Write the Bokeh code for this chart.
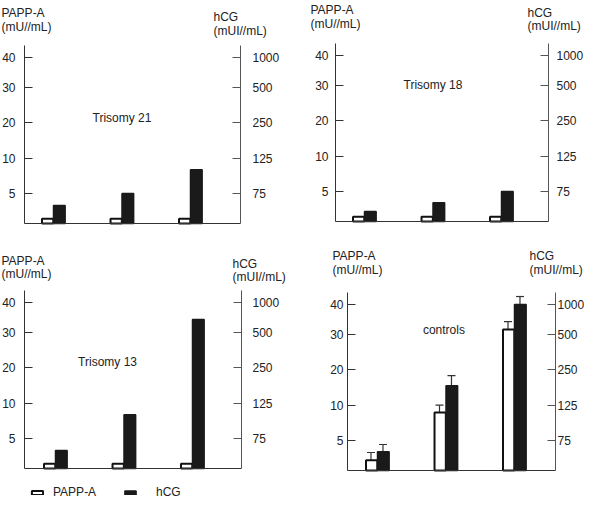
import numpy as np
from bokeh.plotting import figure
from bokeh.models import (Range1d, LinearAxis, FixedTicker, Label, Whisker, TeeHead,
                          ColumnDataSource, Legend, LegendItem)
from bokeh.layouts import column, row
from bokeh.transform import dodge
from bokeh.embed import file_html
from bokeh.resources import INLINE

# ---------------- data ----------------
groups = [1, 2, 3]
papp_ticks = [5, 10, 20, 30, 40]
hcg_ticks = [75, 125, 250, 500, 1000]

t21_papp = [0.8, 0.8, 0.8]
t21_hcg = [45, 75, 109]
t18_papp = [0.8, 0.8, 0.8]
t18_hcg = [25, 47, 75]
t13_papp = [0.8, 0.8, 0.8]
t13_hcg = [45, 109, 717]
ctl_papp = [1.7, 9.0, 31.7]
ctl_papp_err = [3.0, 10.1, 34.3]
ctl_hcg = [47, 194, 1000]
ctl_hcg_err = [65, 229, 1133]

# ------------- the chart's (non-linear, slot based) value scale -------------
SLOTS = [30, 65, 101, 136, 166]   # where each tick sits on a 0..178 axis
Y_MAX = 178
PX_PER_GROUP = 68.5


def papp_pos(v):
    return np.interp(v, [0] + papp_ticks, [0] + SLOTS)


def hcg_pos(v):
    return np.interp(v, [0] + hcg_ticks + [2000], [0] + SLOTS + [226])


FONT = "Liberation Sans"
TXT = "#222222"
AX = "#333333"


def style_axis(a, color, standoff):
    a.minor_tick_line_color = None
    a.major_tick_in = 8
    a.major_tick_out = 0
    a.major_label_standoff = standoff
    a.axis_line_color = color
    a.major_tick_line_color = color
    a.major_label_text_font = FONT
    a.major_label_text_font_size = "12px"
    a.major_label_text_color = TXT


def panel(name, papp, hcg, name_xy, W, H, L, R, G1, T, stand, titles,
          papp_err=None, hcg_err=None):
    """L, R: left/right axis pixel; G1: pixel of first group; T: pixel of axis top."""
    s = PX_PER_GROUP
    x0 = 1 - G1 / s
    below = H - T - Y_MAX
    p = figure(width=W, height=H, x_range=Range1d(x0, x0 + W / s),
               y_range=Range1d(-below, Y_MAX + T),
               output_backend="svg", toolbar_location=None,
               x_axis_location=None, y_axis_location=None, min_border=0)
    p.grid.visible = False
    p.outline_line_color = None
    p.background_fill_color = "white"

    xl = 1 - (G1 - L) / s
    xr = 1 + (R - G1) / s

    base = LinearAxis(fixed_location=0, bounds=(xl, xr), ticker=FixedTicker(ticks=[]))
    base.axis_line_color = AX
    base.axis_line_width = 1.2
    base.major_tick_line_color = None
    base.minor_tick_line_color = None
    p.add_layout(base, "below")

    ya = LinearAxis(fixed_location=xl, bounds=(0, Y_MAX), ticker=FixedTicker(ticks=SLOTS),
                    major_label_overrides={sl: str(t) for sl, t in zip(SLOTS, papp_ticks)})
    style_axis(ya, AX, stand[0])
    p.add_layout(ya, "left")

    p.extra_y_ranges = {"hcg": Range1d(-below, Y_MAX + T)}
    ra = LinearAxis(y_range_name="hcg", fixed_location=xr, bounds=(0, Y_MAX),
                    ticker=FixedTicker(ticks=SLOTS),
                    major_label_overrides={sl: str(t) for sl, t in zip(SLOTS, hcg_ticks)})
    style_axis(ra, "#555555", stand[1])
    p.add_layout(ra, "right")

    data = dict(g=groups, papp=papp_pos(papp), hcg=hcg_pos(hcg))
    if papp_err is not None:
        data["papp_err"] = papp_pos(papp_err)
        data["hcg_err"] = hcg_pos(hcg_err)
    src = ColumnDataSource(data)

    rw = p.vbar(x=dodge("g", -0.085, range=p.x_range), top="papp", width=0.165, source=src,
                fill_color="white", line_color="#111111", line_width=2)
    rb = p.vbar(x=dodge("g", 0.085, range=p.x_range), top="hcg", width=0.17, source=src,
                y_range_name="hcg", fill_color="#1a1a1a", line_color="#1a1a1a", line_width=1.5)

    if papp_err is not None:
        for off, lo, hi in ((-0.095, "papp", "papp_err"), (0.08, "hcg", "hcg_err")):
            w = Whisker(source=src, base=dodge("g", off, range=p.x_range), lower=lo, upper=hi,
                        dimension="height", line_color="#333333", line_width=1.2,
                        upper_head=TeeHead(size=8, line_color="#333333", line_width=1.2),
                        lower_head=None)
            p.add_layout(w)

    p.add_layout(Label(x=name_xy[0], y=name_xy[1], text=name, text_align="center",
                       text_baseline="middle", text_font=FONT, text_font_size="12px",
                       text_color=TXT))

    # axis titles: (side, dx from that axis, height of baseline above axis top, text)
    for side, dx, dy, t in titles:
        ax_px = L if side == "l" else R
        p.add_layout(Label(x=ax_px + dx, y=H - T + dy, x_units="screen", y_units="screen",
                           text=t, text_align="left", text_baseline="alphabetic",
                           text_font=FONT, text_font_size="12px", text_color=TXT))
    return p, rw, rb


p1, _, _ = panel("Trisomy 21", t21_papp, t21_hcg, (2.0, 106), 290, 236, 24, 240, 53, 45, (9, 12),
                 [("l", -23, 33, "PAPP-A"), ("l", -23, 19, "(mU//mL)"),
                  ("r", -27, 29, "hCG"), ("r", -27, 15, "(mUI//mL)")])
p2, _, _ = panel("Trisomy 18", t18_papp, t18_hcg, (2.0, 137), 294, 236, 45, 258, 74, 43, (7, 8),
                 [("l", -25, 34, "PAPP-A"), ("l", -25, 20, "(mU//mL)"),
                  ("r", -21, 31, "hCG"), ("r", -21, 18, "(mUI//mL)")])
p3, rw3, rb3 = panel("Trisomy 13", t13_papp, t13_hcg, (1.76, 107), 290, 263, 24, 241, 55, 54,
                     (9, 11),
                     [("l", -23, 30, "PAPP-A"), ("l", -23, 17, "(mU//mL)"),
                      ("r", -9, 27, "hCG"), ("r", -9, 14, "(mUI//mL)")])
p4, _, _ = panel("controls", ctl_papp, ctl_hcg, (1.97, 141), 294, 263, 57, 265, 87, 56, (4, 2),
                 [("l", -15, 37, "PAPP-A"), ("l", -15, 23, "(mU//mL)"),
                  ("r", -26, 37, "hCG"), ("r", -26, 23, "(mUI//mL)")],
                 papp_err=ctl_papp_err, hcg_err=ctl_hcg_err)

# ---------------- legend (below panel 3) ----------------
for lab, rr, loc, so in (("PAPP-A", rw3, (30, 0), 9), ("hCG", rb3, (123, 0), 19)):
    lg = Legend(items=[LegendItem(label=lab, renderers=[rr])], location=loc,
                orientation="horizontal", glyph_width=14, glyph_height=5,
                label_height=12, label_standoff=so, padding=0, margin=0,
                border_line_color=None, background_fill_alpha=0,
                label_text_font=FONT, label_text_font_size="12px",
                label_text_color=TXT, label_text_baseline="middle")
    p3.add_layout(lg)

layout = column(row(p1, p2), row(p3, p4))
open("out.html", "w").write(file_html(layout, INLINE))
